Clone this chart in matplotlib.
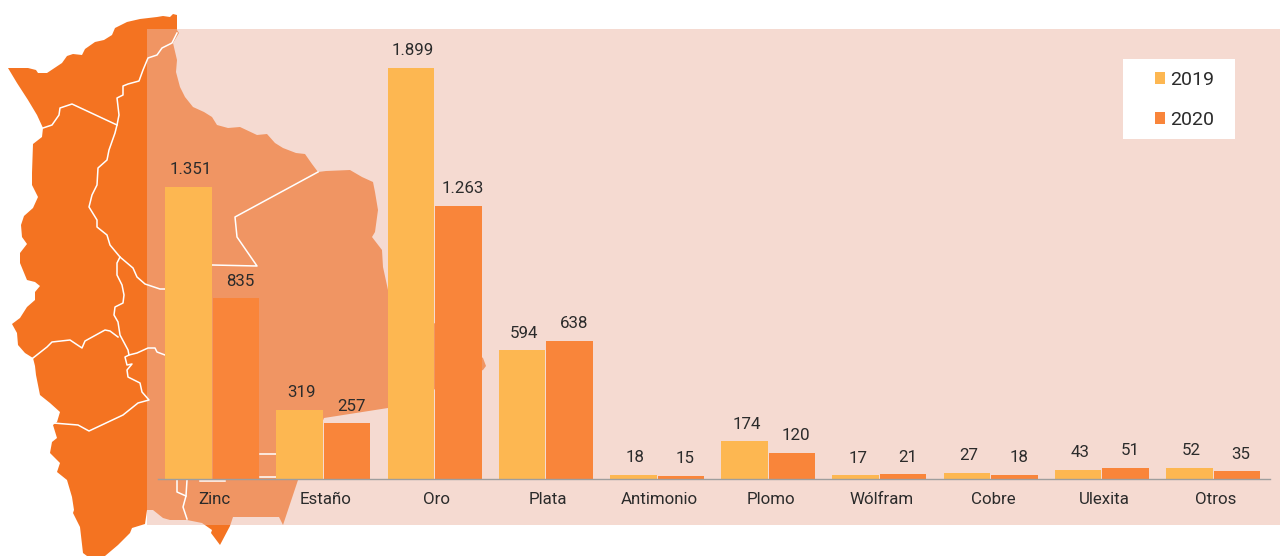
import matplotlib
matplotlib.use("Agg")
import matplotlib.pyplot as plt
from matplotlib.patches import Polygon, Rectangle
import numpy as np

plt.rcParams['font.family'] = ['Roboto', 'DejaVu Sans']

minerals = ["Zinc", "Estaño", "Oro", "Plata", "Antimonio", "Plomo", "Wólfram", "Cobre", "Ulexita", "Otros"]
values_2019 = [1351, 319, 1899, 594, 18, 174, 17, 27, 43, 52]
values_2020 = [835, 257, 1263, 638, 15, 120, 21, 18, 51, 35]

COLOR_2019 = "#FDB751"
COLOR_2020 = "#F9853A"
MAP_COLOR = "#F47321"
TEXT_COLOR = "#2B2B2B"

# map outline behind the chart, traced in pixels of the picture
outline = [
    (177, 15), (177, 30), (179, 33), (173, 43), (177, 60), (176, 72), (180, 87), (185, 97),
    (193, 107), (204, 112), (212, 117), (217, 125), (228, 128), (240, 127), (257, 135),
    (267, 134), (275, 143), (283, 148), (296, 153), (305, 154), (312, 164), (318, 172),
    (326, 171), (350, 170), (362, 177), (373, 182), (375, 192), (378, 210), (375, 232),
    (372, 237), (382, 250), (383, 267), (388, 290), (483, 358), (486, 366), (483, 370),
    (388, 408), (324, 418), (298, 480), (283, 525), (279, 517), (233, 517), (230, 526),
    (220, 545), (211, 533), (212, 530), (202, 523), (187, 520), (170, 520), (163, 518),
    (153, 510), (147, 510), (145, 524), (132, 528), (130, 533), (118, 545), (105, 556),
    (87, 556), (83, 553), (80, 527), (73, 513), (74, 510), (72, 497), (67, 480), (57, 472),
    (60, 463), (50, 453), (52, 442), (57, 438), (53, 425), (57, 422), (60, 412), (50, 403),
    (40, 395), (36, 375), (35, 366), (33, 358), (25, 353), (18, 345), (17, 333), (12, 324),
    (20, 318), (27, 307), (35, 300), (35, 292), (40, 286), (35, 282), (27, 280), (20, 263),
    (20, 253), (27, 244), (22, 237), (21, 225), (24, 216), (33, 208), (38, 197), (32, 185),
    (32, 173), (33, 144), (42, 137), (43, 128), (37, 115), (28, 100), (17, 83), (8, 68),
    (28, 68), (36, 70), (38, 73), (47, 73), (53, 69), (62, 63), (67, 56), (73, 54), (82, 55),
    (85, 49), (95, 42), (104, 40), (112, 35), (115, 28), (127, 22), (140, 19), (157, 17),
    (163, 16), (170, 17), (173, 14),
]

borders = [
    [(177, 33), (172, 43), (162, 48), (157, 55), (148, 58), (143, 70), (139, 81), (128, 84),
     (123, 86), (123, 95), (117, 98), (119, 115), (117, 125), (115, 133), (109, 150), (107, 160),
     (98, 168), (97, 185), (92, 195), (89, 207), (97, 220), (97, 227), (107, 235), (110, 245),
     (120, 257), (133, 268), (137, 277), (145, 284), (160, 289), (165, 289)],
    [(43, 128), (52, 125), (59, 115), (60, 108), (72, 104), (117, 125)],
    [(120, 257), (117, 263), (117, 275), (122, 285), (124, 295), (123, 303), (115, 307),
     (114, 315), (118, 322), (120, 335), (128, 350), (129, 355), (125, 357), (127, 365),
     (132, 364), (127, 370), (128, 377), (140, 383), (142, 392), (149, 400), (138, 403),
     (123, 415), (89, 431), (78, 425), (53, 423)],
    [(33, 358), (47, 347), (52, 342), (70, 340), (82, 348), (85, 341), (105, 330), (110, 331),
     (118, 337)],
    [(129, 355), (137, 353), (148, 348), (155, 348), (157, 352), (165, 355)],
    [(318, 172), (235, 217), (237, 237), (257, 266), (212, 265)],
    [(177, 480), (177, 492), (186, 496), (183, 507), (187, 519)],
    [(187, 480), (186, 496)],
    [(260, 454), (278, 454)],
    [(260, 477), (277, 477)],
    [(200, 481), (225, 481)],
]

fig = plt.figure(figsize=(12.8, 5.57), dpi=100)

bg = fig.add_axes([0, 0, 1, 1], zorder=0)
bg.set_xlim(0, 1280)
bg.set_ylim(557, 0)
bg.axis("off")
bg.add_patch(Polygon(outline, closed=True, facecolor=MAP_COLOR, edgecolor="none"))
for line in borders:
    xs, ys = zip(*line)
    bg.plot(xs, ys, color="white", lw=1.1)
bg.add_patch(Rectangle((147, 29), 1133, 496, facecolor="#EDB7A5", edgecolor="none", alpha=0.5))
bg.add_patch(Rectangle((1123, 59), 112, 80, facecolor="white", edgecolor="none"))

ax = fig.add_axes([158 / 1280, (557 - 479) / 557, 1112 / 1280, 450 / 557], zorder=1)
ax.patch.set_visible(False)

x = np.arange(len(minerals))
w = 0.418
bars1 = ax.bar(x - 0.2135, values_2019, w, color=COLOR_2019, label="2019")
bars2 = ax.bar(x + 0.2135, values_2020, w, color=COLOR_2020, label="2020")

ax.set_xlim(-0.488, 9.512)
ax.set_ylim(0, 2079)

for bars, dx in ((bars1, 1.5), (bars2, 3)):
    for b in bars:
        label = f"{int(b.get_height()):,}".replace(",", ".")
        ax.annotate(label, (b.get_x() + b.get_width() / 2, b.get_height()), xytext=(dx, 12.4),
                    textcoords="offset points", ha="center", va="center",
                    fontsize=12.2, color=TEXT_COLOR)

ax.set_xticks(x + 0.02)
ax.set_xticklabels(minerals, fontsize=12.2, color=TEXT_COLOR)
ax.tick_params(axis="x", length=0, pad=9.5)
ax.set_yticks([])
for s in ("top", "right", "left"):
    ax.spines[s].set_visible(False)
ax.spines["bottom"].set_color("#9E9E9E")
ax.spines["bottom"].set_linewidth(1.0)

ax.legend(loc="upper left", bbox_to_anchor=(1149 / 1280, (557 - 65) / 557),
          bbox_transform=fig.transFigure, frameon=False, fontsize=14, labelcolor=TEXT_COLOR,
          handlelength=0.53, handleheight=0.53, handletextpad=0.28, labelspacing=1.13,
          borderpad=0.3, borderaxespad=0)

fig.savefig("out.png", dpi=100)
